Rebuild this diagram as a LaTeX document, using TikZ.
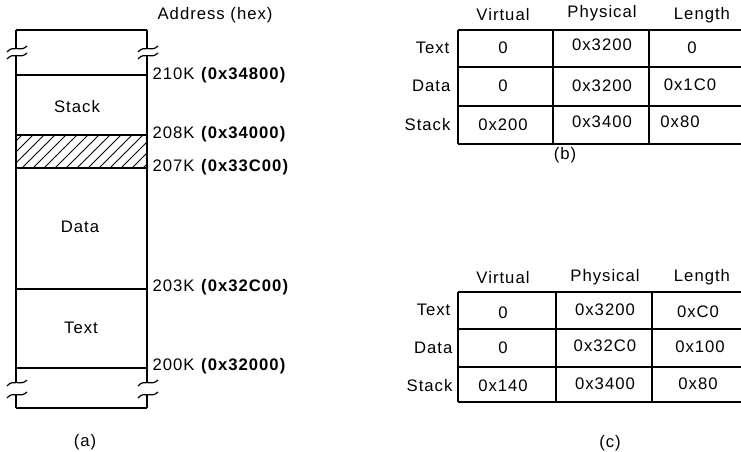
\documentclass[tikz,border=0pt]{standalone}
\usepackage{fontspec}
\setmainfont{Liberation Sans}[LetterSpace=6]
\tikzset{
lbl/.style={font=\fontsize{9.5}{11}\selectfont, inner sep=0pt},
addr/.style={lbl, anchor=west},
rowhd/.style={lbl, anchor=east},
cutmark/.pic={\draw[line width=0.7pt] (-10,3) .. controls (-3,-5) and (3,4) .. (10,-3);}
}
\newcommand{\hx}[1]{\textbf{(#1)}}
\begin{document}
\begin{tikzpicture}[x=0.02cm, y=-0.02cm, line width=0.7pt]
\useasboundingbox (0,0) rectangle (741,452);

% Memory layout (a)
\begin{scope}
\clip (16,135) rectangle (147,168);
\foreach \x in {-33,-22,...,150} {
\draw[line width=0.5pt] (\x,168) -- (\x+33,135);
}
\end{scope}

\foreach \y in {30,75,135,168,289,368,408} {
\draw (16,\y) -- (147,\y);
}
\foreach \x in {16,147} {
\draw (\x,30) -- (\x,49);
\draw (\x,56) -- (\x,383);
\draw (\x,395) -- (\x,408);
\pic at (\x+1,49) {cutmark};
\pic at (\x+1,56) {cutmark};
\pic at (\x+1,383) {cutmark};
\pic at (\x+1,395) {cutmark};
}

\node[lbl] (stk) at (77,107) {Stack};
\node[lbl] (dat) at (80,227) {Data};
\node[lbl] (txt) at (81,328) {Text};

\node[addr] (hdr) at (157,15) {Address (hex)};
\node[addr] (a210) at (152,75) {210K \hx{0x34800}};
\node[addr] (a208) at (152,134) {208K \hx{0x34000}};
\node[addr] (a207) at (152,167) {207K \hx{0x33C00}};
\node[addr] (a203) at (152,287) {203K \hx{0x32C00}};
\node[addr] (a200) at (152,366) {200K \hx{0x32000}};
\node[lbl] (capa) at (85,442) {(a)};

% Table (b)
\foreach \y in {30,67,106,144} {
\draw (458,\y) -- (741,\y);
}
\foreach \x in {458,553,649} {
\draw (\x,30) -- (\x,144);
}
\node[lbl] (bv) at (503,15) {Virtual};
\node[lbl] (bp) at (602,13) {Physical};
\node[lbl] (bl) at (702,15) {Length};
\node[rowhd] (bt) at (450,48) {Text};
\node[rowhd] (bd) at (451,86) {Data};
\node[rowhd] (bs) at (451,125) {Stack};
\node[lbl] at (503,48) {0};
\node[lbl] at (602,45) {0x3200};
\node[lbl] at (692,48) {0};
\node[lbl] at (503,86) {0};
\node[lbl] at (602,86) {0x3200};
\node[lbl] at (690,85) {0x1C0};
\node[lbl] at (503,125) {0x200};
\node[lbl] at (602,122) {0x3400};
\node[lbl] at (680,122) {0x80};
\node[lbl] (capb) at (565,155) {(b)};

% Table (c)
\foreach \y in {292,329,367,402} {
\draw (458,\y) -- (741,\y);
}
\foreach \x in {458,556,652} {
\draw (\x,292) -- (\x,402);
}
\node[lbl] (cv) at (503,278) {Virtual};
\node[lbl] (cp) at (605,277) {Physical};
\node[lbl] (cl) at (702,277) {Length};
\node[rowhd] (ct) at (451,310) {Text};
\node[rowhd] (cd) at (453,348) {Data};
\node[rowhd] (cs) at (453,386) {Stack};
\node[lbl] at (503,313) {0};
\node[lbl] at (605,310) {0x3200};
\node[lbl] at (698,312) {0xC0};
\node[lbl] at (503,348) {0};
\node[lbl] at (605,346) {0x32C0};
\node[lbl] at (700,347) {0x100};
\node[lbl] at (503,386) {0x140};
\node[lbl] at (605,384) {0x3400};
\node[lbl] at (698,384) {0x80};
\node[lbl] (capc) at (610,443) {(c)};

\end{tikzpicture}
\end{document}
